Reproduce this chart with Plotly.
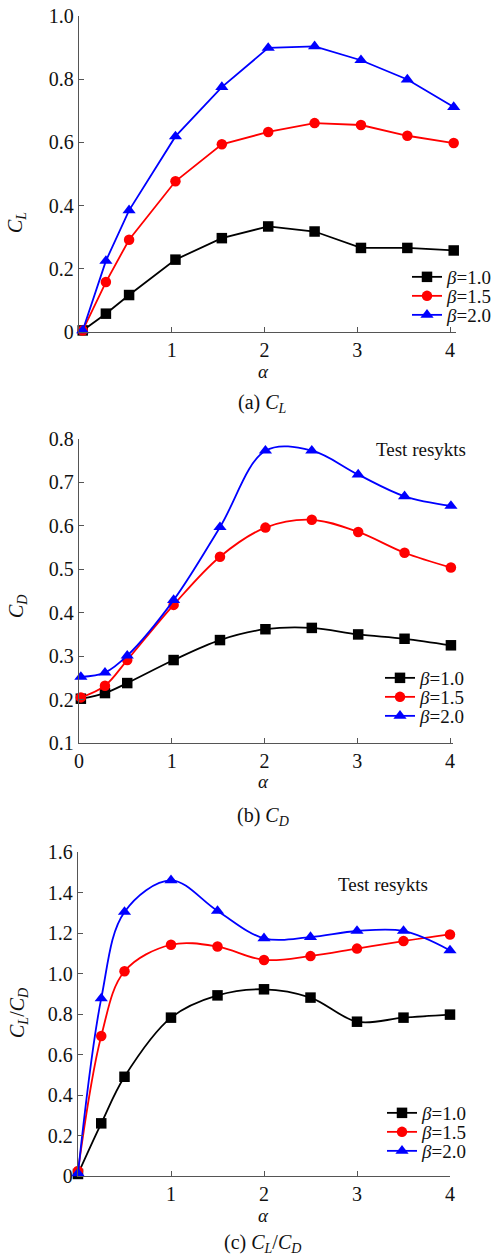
import plotly.graph_objects as go

W, H = 502, 1256
FONT = "Liberation Serif"

# ---------------- data ----------------
series_names = ["<i>β</i>=1.0", "<i>β</i>=1.5", "<i>β</i>=2.0"]
colors = ["#000000", "#ff0000", "#0000ff"]
symbols = ["square", "circle", "triangle-up"]

alpha_a = [0.04, 0.29, 0.54, 1.04, 1.54, 2.04, 2.54, 3.04, 3.54, 4.04]
cl_b10 = [0.005, 0.058, 0.117, 0.229, 0.297, 0.334, 0.318, 0.266, 0.266, 0.258]
cl_b15 = [0.005, 0.158, 0.292, 0.477, 0.594, 0.633, 0.661, 0.655, 0.621, 0.598]
cl_b20 = [0.005, 0.225, 0.385, 0.619, 0.775, 0.899, 0.904, 0.860, 0.799, 0.712]

alpha_b = [0.02, 0.28, 0.52, 1.02, 1.52, 2.01, 2.51, 3.01, 3.51, 4.01]
cd_b10 = [0.202, 0.215, 0.238, 0.291, 0.337, 0.362, 0.365, 0.350, 0.340, 0.325]
cd_b15 = [0.205, 0.232, 0.291, 0.418, 0.529, 0.596, 0.614, 0.586, 0.538, 0.504]
cd_b20 = [0.252, 0.262, 0.301, 0.429, 0.597, 0.773, 0.773, 0.718, 0.668, 0.646]

alpha_c = [0.0, 0.25, 0.5, 1.0, 1.5, 2.0, 2.5, 3.0, 3.5, 4.0]
ld_b10 = [0.010, 0.260, 0.490, 0.782, 0.892, 0.922, 0.881, 0.762, 0.782, 0.797]
ld_b15 = [0.025, 0.691, 1.011, 1.142, 1.133, 1.067, 1.086, 1.123, 1.160, 1.193]
ld_b20 = [0.013, 0.877, 1.304, 1.460, 1.309, 1.174, 1.180, 1.210, 1.210, 1.114]

ticks_a_y = [0, 0.2, 0.4, 0.6, 0.8, 1.0]
ticktext_a_y = ["0", "0.2", "0.4", "0.6", "0.8", "1.0"]
ticks_b_y = [0.1, 0.2, 0.3, 0.4, 0.5, 0.6, 0.7, 0.8]
ticktext_b_y = ["0.1", "0.2", "0.3", "0.4", "0.5", "0.6", "0.7", "0.8"]
ticks_c_y = [0, 0.2, 0.4, 0.6, 0.8, 1.0, 1.2, 1.4, 1.6]
ticktext_c_y = ["0", "0.2", "0.4", "0.6", "0.8", "1.0", "1.2", "1.4", "1.6"]
ticks_x_ac = [1, 2, 3, 4]
ticks_x_b = [0, 1, 2, 3, 4]

# ---------------- helpers ----------------
def px_x(p):
    return p / W

def px_y(p):
    return 1 - p / H

fig = go.Figure()

# legend placement per entry (pixel x of legend left, pixel y centre)
legend_pos = {
    "a": (407, [277, 296, 315]),
    "b": (380, [678, 697, 716]),
    "c": (382, [1113, 1132, 1151]),
}

panels = [
    ("a", "x", "y", alpha_a, [cl_b10, cl_b15, cl_b20], "linear"),
    ("b", "x2", "y2", alpha_b, [cd_b10, cd_b15, cd_b20], "spline"),
    ("c", "x3", "y3", alpha_c, [ld_b10, ld_b15, ld_b20], "spline"),
]
legend_layout = {}
lg_idx = 0
for key, xa, ya, xs, ys_list, shape in panels:
    lx, lys = legend_pos[key]
    for name, col, sym, ys, ly in zip(series_names, colors, symbols, ys_list, lys):
        lg_idx += 1
        lg_name = "legend" if lg_idx == 1 else f"legend{lg_idx}"
        fig.add_trace(go.Scatter(
            x=xs, y=ys, xaxis=xa, yaxis=ya, legend=lg_name, name=name,
            mode="lines+markers", cliponaxis=False, showlegend=True,
            line=dict(color=col, width=1.8, shape=shape, smoothing=1.0),
            marker=dict(symbol=sym, color=col, size=10.5 if sym != "triangle-up" else 11.5),
        ))
        legend_layout[lg_name] = dict(
            x=px_x(lx), y=px_y(ly), xanchor="left", yanchor="middle",
            xref="paper", yref="paper", visible=True,
            bgcolor="rgba(0,0,0,0)", borderwidth=0,
            font=dict(family=FONT, size=19, color="#111111"),
        )

axis_common = dict(
    showline=True, linecolor="#555555", linewidth=1.3,
    ticks="inside", ticklen=5, tickcolor="#555555", tickwidth=1.3,
    showgrid=False, zeroline=False, automargin=False,
    tickfont=dict(family=FONT, size=20, color="#111111"),
    mirror=False, fixedrange=True,
)

unit_a = (450 - 79) / 4.0
unit_c = (450 - 78) / 4.0
xmax_a, xmax_b = 4.06, 4.03
fig.update_layout(
    width=W, height=H, showlegend=True,
    margin=dict(l=0, r=0, t=0, b=0, autoexpand=False),
    paper_bgcolor="white", plot_bgcolor="white",
    font=dict(family=FONT, color="#111111"),
    xaxis=dict(domain=[px_x(79), px_x(79 + unit_a * xmax_a)], anchor="y",
               range=[0, xmax_a], tickvals=ticks_x_ac, **axis_common),
    yaxis=dict(domain=[px_y(332), px_y(16)], anchor="x", range=[0, 1.0],
               tickvals=ticks_a_y, ticktext=ticktext_a_y, **axis_common),
    xaxis2=dict(domain=[px_x(79), px_x(79 + unit_a * xmax_b)], anchor="y2",
                range=[0, xmax_b], tickvals=ticks_x_b, **axis_common),
    yaxis2=dict(domain=[px_y(743), px_y(439)], anchor="x2", range=[0.1, 0.8],
                tickvals=ticks_b_y, ticktext=ticktext_b_y, **axis_common),
    xaxis3=dict(domain=[px_x(78), px_x(78 + unit_c * 4.0)], anchor="y3",
                range=[0, 4], tickvals=ticks_x_ac, **axis_common),
    yaxis3=dict(domain=[px_y(1176), px_y(852)], anchor="x3", range=[0, 1.6],
                tickvals=ticks_c_y, ticktext=ticktext_c_y, **axis_common),
    **legend_layout,
)

def ann(text, x, y, size=20, angle=0):
    fig.add_annotation(
        text=text, x=px_x(x), y=px_y(y), xref="paper", yref="paper",
        xanchor="center", yanchor="middle", showarrow=False, textangle=angle,
        font=dict(family=FONT, size=size, color="#111111"),
    )

# axis titles
ann("<i>C</i><sub><i>L</i></sub>", 16, 223, angle=-90)
ann("<i>C</i><sub><i>D</i></sub>", 17, 607, angle=-90)
ann("<i>C</i><sub><i>L</i></sub>/<i>C</i><sub><i>D</i></sub>", 18, 1013, angle=-90)
ann("<i>α</i>", 263, 371, size=19)
ann("<i>α</i>", 263, 781, size=19)
ann("<i>α</i>", 263, 1215, size=19)
# captions
ann("(a) <i>C</i><sub><i>L</i></sub>", 262, 403)
ann("(b) <i>C</i><sub><i>D</i></sub>", 263, 816)
ann("(c) <i>C</i><sub><i>L</i></sub>/<i>C</i><sub><i>D</i></sub>", 262, 1243)
# notes
ann("Test resykts", 421, 450, size=19)
ann("Test resykts", 383, 884, size=19)

fig.write_html("out.html", config={"displayModeBar": False},
               post_script="document.body.style.margin='0px';")
